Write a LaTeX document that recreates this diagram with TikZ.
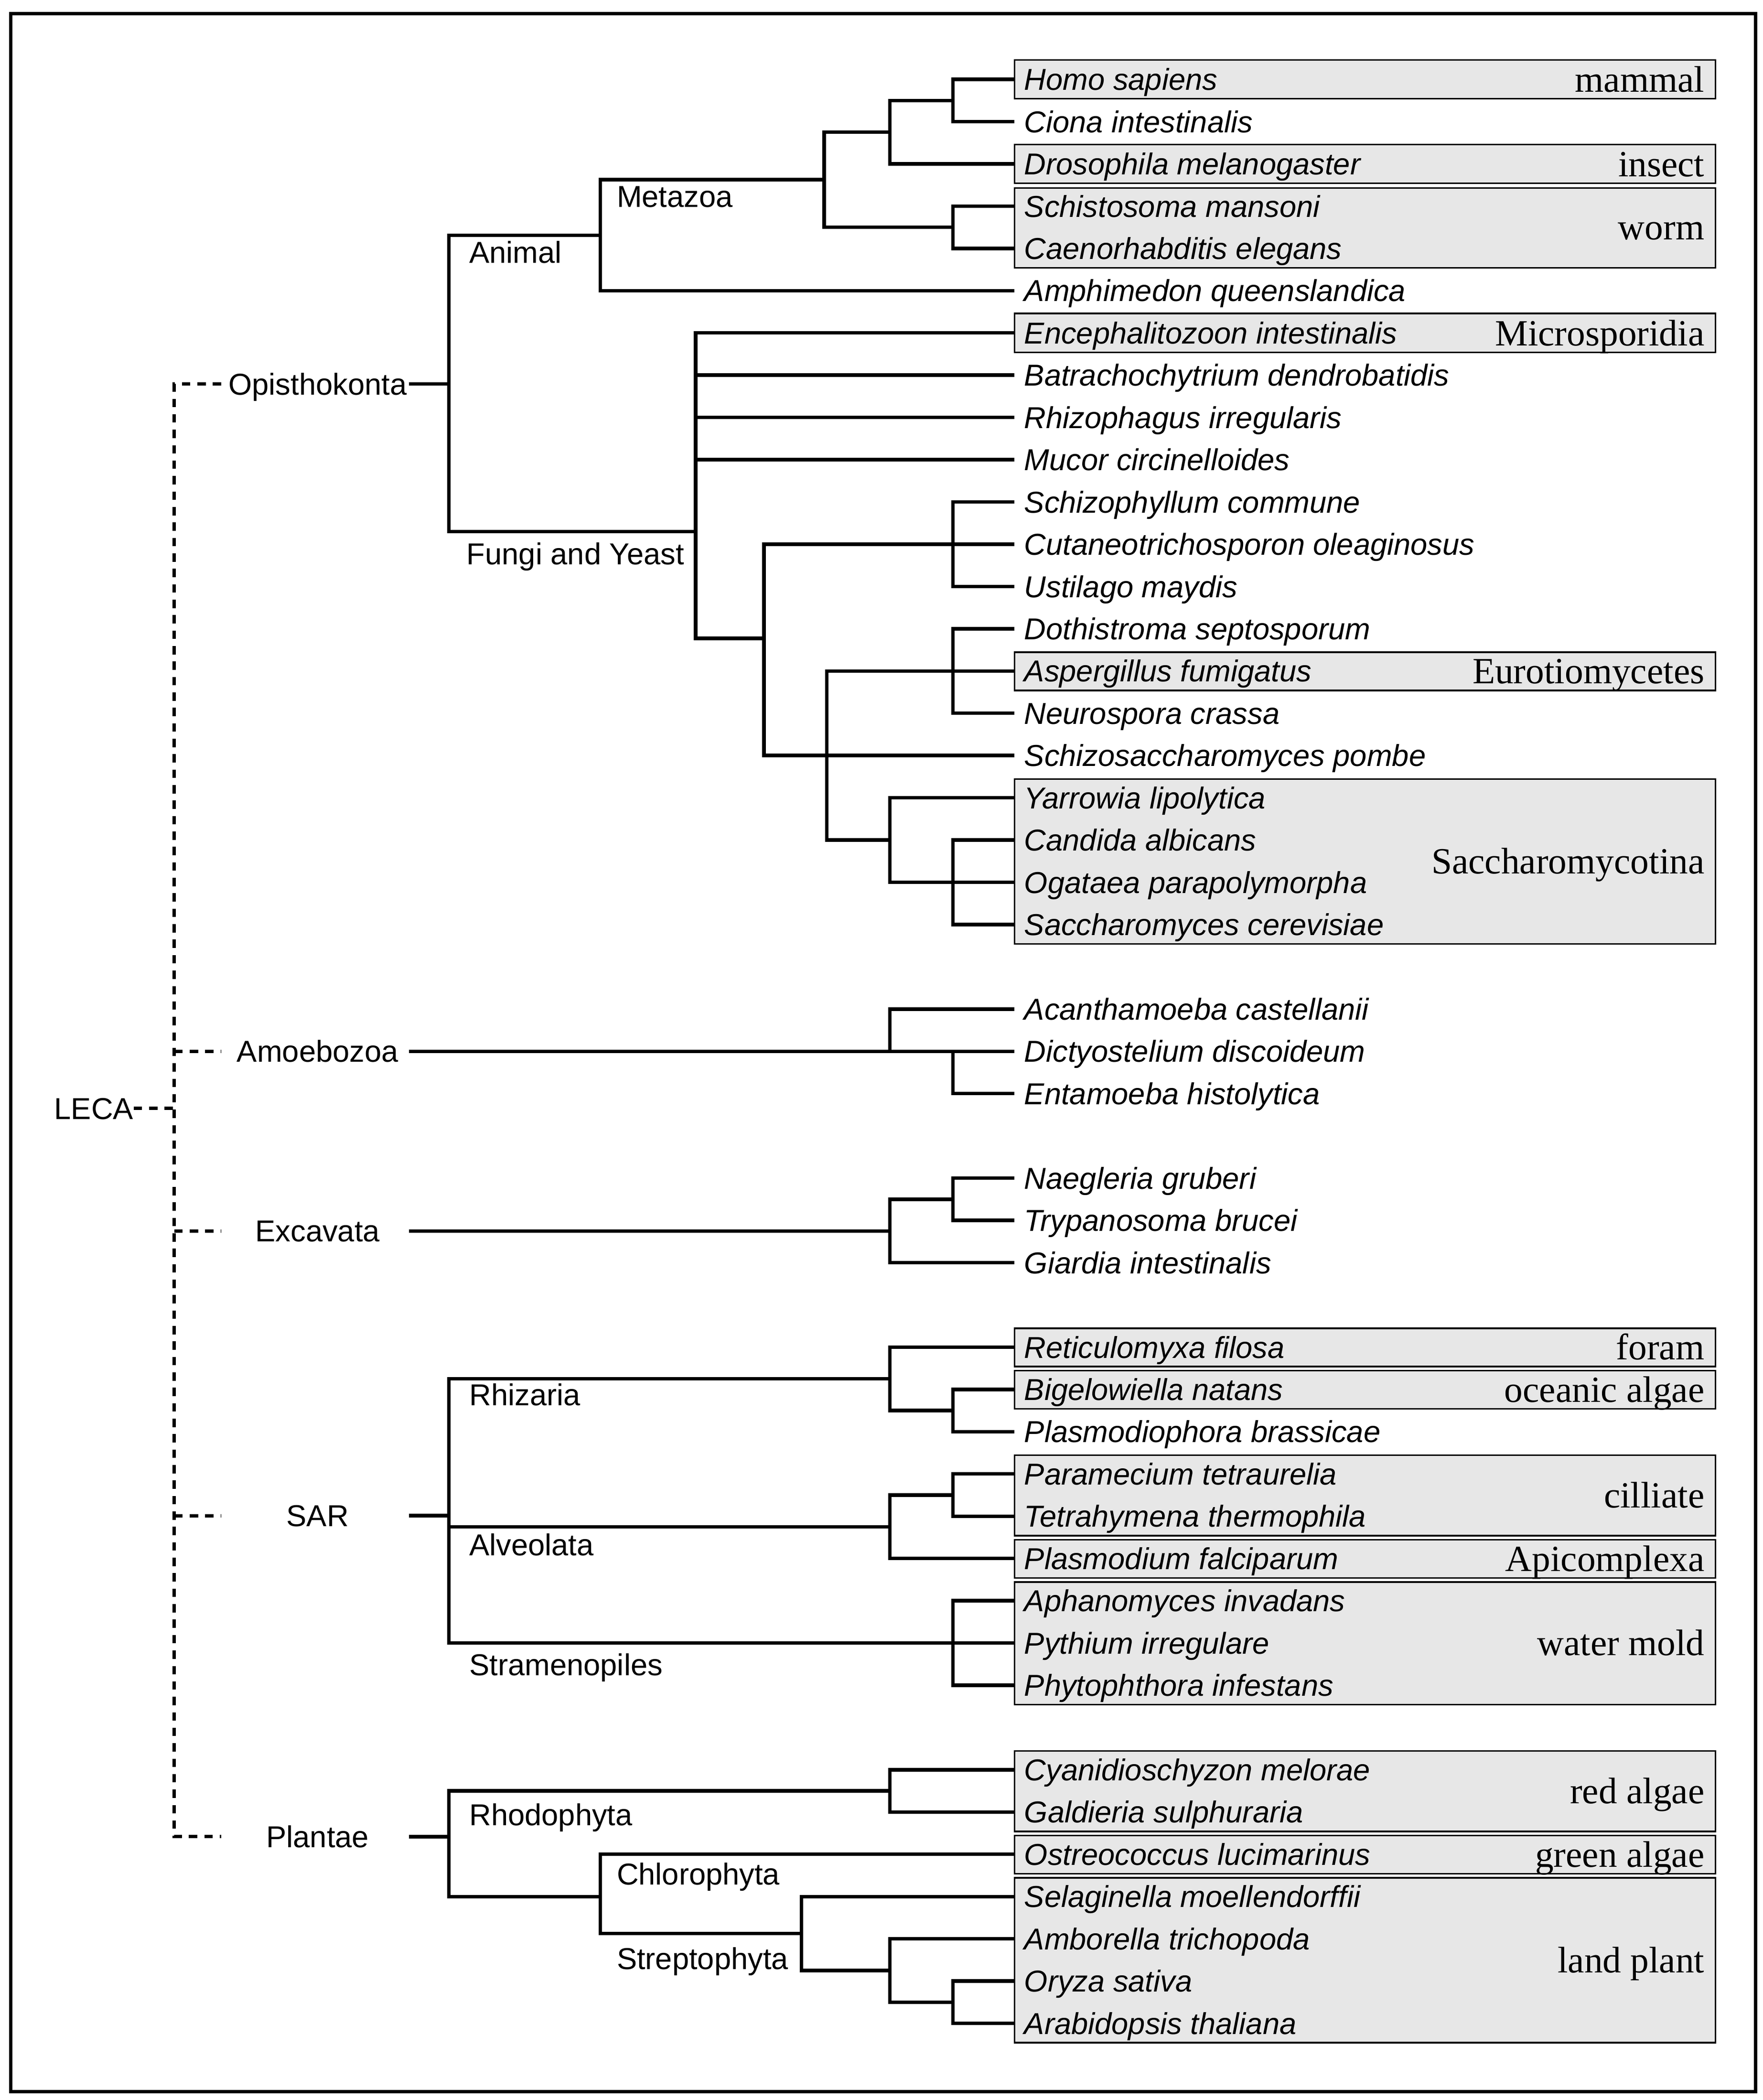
\documentclass[tikz,border=0pt]{standalone}
\usepackage{fontspec}
\setsansfont{Liberation Sans}
\newfontfamily\boxfont{Liberation Serif}
\usepackage{tikz}
\definecolor{boxgray}{RGB}{231,231,231}
\newcommand{\ry}[1]{59.2+31.53*(#1)}
\tikzset{
    line join=round,
    br/.style={line width=2.1pt, to path={|- (\tikztotarget)}},
    dashlink/.style={line width=2pt, dash pattern=on 5pt off 4.2pt},
    leaf/.style={anchor=west, inner xsep=5.6pt, inner ysep=0pt, text height=12.9pt, text depth=0pt,
        font=\sffamily\itshape\fontsize{18}{20}\selectfont},
    clade/.style={anchor=west, inner sep=0pt, text height=12.9pt, text depth=0pt,
        font=\sffamily\fontsize{18}{20}\selectfont},
    supergroup/.style={clade, anchor=center},
    taxbox/.style={draw, line width=1pt, fill=boxgray},
    boxlabel/.style={anchor=east, inner sep=0pt, text height=15pt, text depth=0pt,
        font=\boxfont\fontsize{22}{24}\selectfont}
}
\begin{document}
\begin{tikzpicture}[x=0.02805cm, y=-0.02805cm]
    \useasboundingbox (0,0) rectangle (1315.2,1566.8);
    \draw[line width=2pt] (8,10) rectangle (1310,1560.5);

    % grey boxes
    \path[taxbox] (757,{\ry{0}-14.5}) rectangle (1280,{\ry{0}+14.5});
    \path[taxbox] (757,{\ry{2}-14.5}) rectangle (1280,{\ry{2}+14.5});
    \path[taxbox] (757,{\ry{3}-13.5}) rectangle (1280,{\ry{4}+14.5});
    \path[taxbox] (757,{\ry{6}-14.5}) rectangle (1280,{\ry{6}+14.5});
    \path[taxbox] (757,{\ry{14}-14}) rectangle (1280,{\ry{14}+14.5});
    \path[taxbox] (757,{\ry{17}-14}) rectangle (1280,{\ry{20}+14.5});
    \path[taxbox] (757,{\ry{30}-14}) rectangle (1280,{\ry{30}+14.5});
    \path[taxbox] (757,{\ry{31}-14}) rectangle (1280,{\ry{31}+14.5});
    \path[taxbox] (757,{\ry{33}-14}) rectangle (1280,{\ry{34}+14.5});
    \path[taxbox] (757,{\ry{35}-14}) rectangle (1280,{\ry{35}+14.5});
    \path[taxbox] (757,{\ry{36}-14}) rectangle (1280,{\ry{38}+14.5});
    \path[taxbox] (757,{\ry{40}-14}) rectangle (1280,{\ry{41}+14.5});
    \path[taxbox] (757,{\ry{42}-14}) rectangle (1280,{\ry{42}+14.5});
    \path[taxbox] (757,{\ry{43}-14}) rectangle (1280,{\ry{46}+14.5});

    \node[boxlabel] (mammal) at (1272,{\ry{0}}) {mammal};
    \node[boxlabel] (insect) at (1272,{\ry{2}}) {insect};
    \node[boxlabel] (worm) at (1272,{\ry{3.5}}) {worm};
    \node[boxlabel] (micro) at (1272,{\ry{6}}) {Microsporidia};
    \node[boxlabel] (euro) at (1272,{\ry{14}}) {Eurotiomycetes};
    \node[boxlabel] (saccho) at (1272,{\ry{18.5}}) {Saccharomycotina};
    \node[boxlabel] (foram) at (1272,{\ry{30}}) {foram};
    \node[boxlabel] (ocean) at (1272,{\ry{31}}) {oceanic algae};
    \node[boxlabel] (cilli) at (1272,{\ry{33.5}}) {cilliate};
    \node[boxlabel] (apico) at (1272,{\ry{35}}) {Apicomplexa};
    \node[boxlabel] (water) at (1272,{\ry{37}}) {water mold};
    \node[boxlabel] (red) at (1272,{\ry{40.5}}) {red algae};
    \node[boxlabel] (green) at (1272,{\ry{42}}) {green algae};
    \node[boxlabel] (land) at (1272,{\ry{44.5}}) {land plant};

    % species
    \node[leaf] (homo) at (757,{\ry{0}}) {Homo sapiens};
    \node[leaf] (ciona) at (757,{\ry{1}}) {Ciona intestinalis};
    \node[leaf] (droso) at (757,{\ry{2}}) {Drosophila melanogaster};
    \node[leaf] (schisto) at (757,{\ry{3}}) {Schistosoma mansoni};
    \node[leaf] (caeno) at (757,{\ry{4}}) {Caenorhabditis elegans};
    \node[leaf] (amphi) at (757,{\ry{5}}) {Amphimedon queenslandica};
    \node[leaf] (encep) at (757,{\ry{6}}) {Encephalitozoon intestinalis};
    \node[leaf] (batra) at (757,{\ry{7}}) {Batrachochytrium dendrobatidis};
    \node[leaf] (rhizo) at (757,{\ry{8}}) {Rhizophagus irregularis};
    \node[leaf] (mucor) at (757,{\ry{9}}) {Mucor circinelloides};
    \node[leaf] (schizo) at (757,{\ry{10}}) {Schizophyllum commune};
    \node[leaf] (cutan) at (757,{\ry{11}}) {Cutaneotrichosporon oleaginosus};
    \node[leaf] (ustil) at (757,{\ry{12}}) {Ustilago maydis};
    \node[leaf] (dothi) at (757,{\ry{13}}) {Dothistroma septosporum};
    \node[leaf] (asper) at (757,{\ry{14}}) {Aspergillus fumigatus};
    \node[leaf] (neuro) at (757,{\ry{15}}) {Neurospora crassa};
    \node[leaf] (pombe) at (757,{\ry{16}}) {Schizosaccharomyces pombe};
    \node[leaf] (yarro) at (757,{\ry{17}}) {Yarrowia lipolytica};
    \node[leaf] (candi) at (757,{\ry{18}}) {Candida albicans};
    \node[leaf] (ogat) at (757,{\ry{19}}) {Ogataea parapolymorpha};
    \node[leaf] (cerev) at (757,{\ry{20}}) {Saccharomyces cerevisiae};
    \node[leaf] (acanth) at (757,{\ry{22}}) {Acanthamoeba castellanii};
    \node[leaf] (dicty) at (757,{\ry{23}}) {Dictyostelium discoideum};
    \node[leaf] (entam) at (757,{\ry{24}}) {Entamoeba histolytica};
    \node[leaf] (naeg) at (757,{\ry{26}}) {Naegleria gruberi};
    \node[leaf] (trypa) at (757,{\ry{27}}) {Trypanosoma brucei};
    \node[leaf] (giard) at (757,{\ry{28}}) {Giardia intestinalis};
    \node[leaf] (retic) at (757,{\ry{30}}) {Reticulomyxa filosa};
    \node[leaf] (bigel) at (757,{\ry{31}}) {Bigelowiella natans};
    \node[leaf] (plasmo) at (757,{\ry{32}}) {Plasmodiophora brassicae};
    \node[leaf] (param) at (757,{\ry{33}}) {Paramecium tetraurelia};
    \node[leaf] (tetra) at (757,{\ry{34}}) {Tetrahymena thermophila};
    \node[leaf] (falci) at (757,{\ry{35}}) {Plasmodium falciparum};
    \node[leaf] (aphan) at (757,{\ry{36}}) {Aphanomyces invadans};
    \node[leaf] (pyth) at (757,{\ry{37}}) {Pythium irregulare};
    \node[leaf] (phyto) at (757,{\ry{38}}) {Phytophthora infestans};
    \node[leaf] (cyani) at (757,{\ry{40}}) {Cyanidioschyzon melorae};
    \node[leaf] (galdi) at (757,{\ry{41}}) {Galdieria sulphuraria};
    \node[leaf] (ostreo) at (757,{\ry{42}}) {Ostreococcus lucimarinus};
    \node[leaf] (selag) at (757,{\ry{43}}) {Selaginella moellendorffii};
    \node[leaf] (ambor) at (757,{\ry{44}}) {Amborella trichopoda};
    \node[leaf] (oryza) at (757,{\ry{45}}) {Oryza sativa};
    \node[leaf] (arabi) at (757,{\ry{46}}) {Arabidopsis thaliana};

    % supergroups
    \node[supergroup] (leca) at (70,827) {LECA};
    \node[supergroup] (opisthokonta) at (237,286.4) {Opisthokonta};
    \node[supergroup] (amoebozoa) at (237,{\ry{23}}) {Amoebozoa};
    \node[supergroup] (excavata) at (237,{\ry{27.25}}) {Excavata};
    \node[supergroup] (sargroup) at (237,1130.8) {SAR};
    \node[supergroup] (plantae) at (237,1370.3) {Plantae};

    % clades
    \node[clade] (metazoa) at (460,146.4) {Metazoa};
    \node[clade] (animal) at (350,188) {Animal};
    \node[clade] (fungi) at (348,413) {Fungi and Yeast};
    \node[clade] (rhizaria) at (350,1040.6) {Rhizaria};
    \node[clade] (alveolata) at (350,1152.4) {Alveolata};
    \node[clade] (stramenopiles) at (350,1242) {Stramenopiles};
    \node[clade] (rhodophyta) at (350,1353.8) {Rhodophyta};
    \node[clade] (chlorophyta) at (460,1398.2) {Chlorophyta};
    \node[clade] (streptophyta) at (460,1461.2) {Streptophyta};

    % dashed links to LECA
    \coordinate (sp-opis) at (130,286.4);
    \coordinate (sp-amo) at (130,{\ry{23}});
    \coordinate (sp-exc) at (130,{\ry{27.25}});
    \coordinate (sp-sar) at (130,1130.8);
    \coordinate (sp-plan) at (130,1370.3);
    \coordinate (sp-leca) at (130,827);
    \coordinate (d-opis) at (165,286.4);
    \coordinate (d-amo) at (165,{\ry{23}});
    \coordinate (d-exc) at (165,{\ry{27.25}});
    \coordinate (d-sar) at (165,1130.8);
    \coordinate (d-plan) at (165,1370.3);
    \draw[dashlink] (d-opis) -- (sp-opis) -- (sp-plan) -- (d-plan);
    \draw[dashlink] (sp-amo) -- (d-amo);
    \draw[dashlink] (sp-exc) -- (d-exc);
    \draw[dashlink] (sp-sar) -- (d-sar);
    \draw[dashlink] (leca.east) -- (sp-leca);

    % Opisthokonta
    \coordinate (opis0) at (305,286.4);
    \coordinate (opis) at (335,286.4);
    \coordinate (anim) at (448,{\ry{3.6875}});
    \coordinate (meta) at (615,{\ry{2.375}});
    \coordinate (hd) at (664,{\ry{1.25}});
    \coordinate (hs) at (711,{\ry{0.5}});
    \coordinate (sc) at (711,{\ry{3.5}});
    \coordinate (fung) at (519,396.5);
    \coordinate (dika) at (570,476.3);
    \coordinate (basi) at (711,{\ry{11}});
    \coordinate (asco) at (617,{\ry{16}});
    \coordinate (pezi) at (711,{\ry{14}});
    \coordinate (sacc) at (664,{\ry{18}});
    \coordinate (cos) at (711,{\ry{19}});

    \path (opis0) edge[br] (opis);
    \path (opis) edge[br] (anim);
    \path (opis) edge[br] (fung);
    \path (anim) edge[br] (meta);
    \path (anim) edge[br] (amphi.west);
    \path (meta) edge[br] (hd);
    \path (meta) edge[br] (sc);
    \path (hd) edge[br] (hs);
    \path (hd) edge[br] (droso.west);
    \path (hs) edge[br] (homo.west);
    \path (hs) edge[br] (ciona.west);
    \path (sc) edge[br] (schisto.west);
    \path (sc) edge[br] (caeno.west);
    \path (fung) edge[br] (encep.west);
    \path (fung) edge[br] (batra.west);
    \path (fung) edge[br] (rhizo.west);
    \path (fung) edge[br] (mucor.west);
    \path (fung) edge[br] (dika);
    \path (dika) edge[br] (basi);
    \path (dika) edge[br] (pombe.west);
    \path (basi) edge[br] (schizo.west);
    \path (basi) edge[br] (cutan.west);
    \path (basi) edge[br] (ustil.west);
    \path (asco) edge[br] (pezi);
    \path (asco) edge[br] (sacc);
    \path (pezi) edge[br] (dothi.west);
    \path (pezi) edge[br] (asper.west);
    \path (pezi) edge[br] (neuro.west);
    \path (sacc) edge[br] (yarro.west);
    \path (sacc) edge[br] (cos);
    \path (cos) edge[br] (candi.west);
    \path (cos) edge[br] (ogat.west);
    \path (cos) edge[br] (cerev.west);

    % Amoebozoa
    \coordinate (amo0) at (305,{\ry{23}});
    \coordinate (acdi) at (664,{\ry{23}});
    \coordinate (dien) at (711,{\ry{23}});
    \path (amo0) edge[br] (dicty.west);
    \path (acdi) edge[br] (acanth.west);
    \path (dien) edge[br] (entam.west);

    % Excavata
    \coordinate (exc0) at (305,{\ry{27.25}});
    \coordinate (exc) at (664,{\ry{27.25}});
    \coordinate (natr) at (711,{\ry{26.5}});
    \path (exc0) edge[br] (exc);
    \path (exc) edge[br] (natr);
    \path (exc) edge[br] (giard.west);
    \path (natr) edge[br] (naeg.west);
    \path (natr) edge[br] (trypa.west);

    % SAR
    \coordinate (sar0) at (305,1130.8);
    \coordinate (sar) at (335,1130.8);
    \coordinate (rhiz) at (664,{\ry{30.75}});
    \coordinate (bipl) at (711,{\ry{31.5}});
    \coordinate (alve) at (664,{\ry{34.25}});
    \coordinate (pate) at (711,{\ry{33.5}});
    \coordinate (stra) at (711,{\ry{37}});
    \path (sar0) edge[br] (sar);
    \path (sar) edge[br] (rhiz);
    \path (sar) edge[br] (alve);
    \path (sar) edge[br] (stra);
    \path (rhiz) edge[br] (retic.west);
    \path (rhiz) edge[br] (bipl);
    \path (bipl) edge[br] (bigel.west);
    \path (bipl) edge[br] (plasmo.west);
    \path (alve) edge[br] (pate);
    \path (alve) edge[br] (falci.west);
    \path (pate) edge[br] (param.west);
    \path (pate) edge[br] (tetra.west);
    \path (stra) edge[br] (aphan.west);
    \path (stra) edge[br] (pyth.west);
    \path (stra) edge[br] (phyto.west);

    % Plantae
    \coordinate (plan0) at (305,1370.3);
    \coordinate (plan) at (335,1370.3);
    \coordinate (rhod) at (664,{\ry{40.5}});
    \coordinate (viri) at (448,{\ry{43}});
    \coordinate (strep) at (598,{\ry{43.875}});
    \coordinate (embr) at (664,{\ry{44.75}});
    \coordinate (orar) at (711,{\ry{45.5}});
    \path (plan0) edge[br] (plan);
    \path (plan) edge[br] (rhod);
    \path (plan) edge[br] (viri);
    \path (rhod) edge[br] (cyani.west);
    \path (rhod) edge[br] (galdi.west);
    \path (viri) edge[br] (ostreo.west);
    \path (viri) edge[br] (strep);
    \path (strep) edge[br] (selag.west);
    \path (strep) edge[br] (embr);
    \path (embr) edge[br] (ambor.west);
    \path (embr) edge[br] (orar);
    \path (orar) edge[br] (oryza.west);
    \path (orar) edge[br] (arabi.west);
\end{tikzpicture}
\end{document}
